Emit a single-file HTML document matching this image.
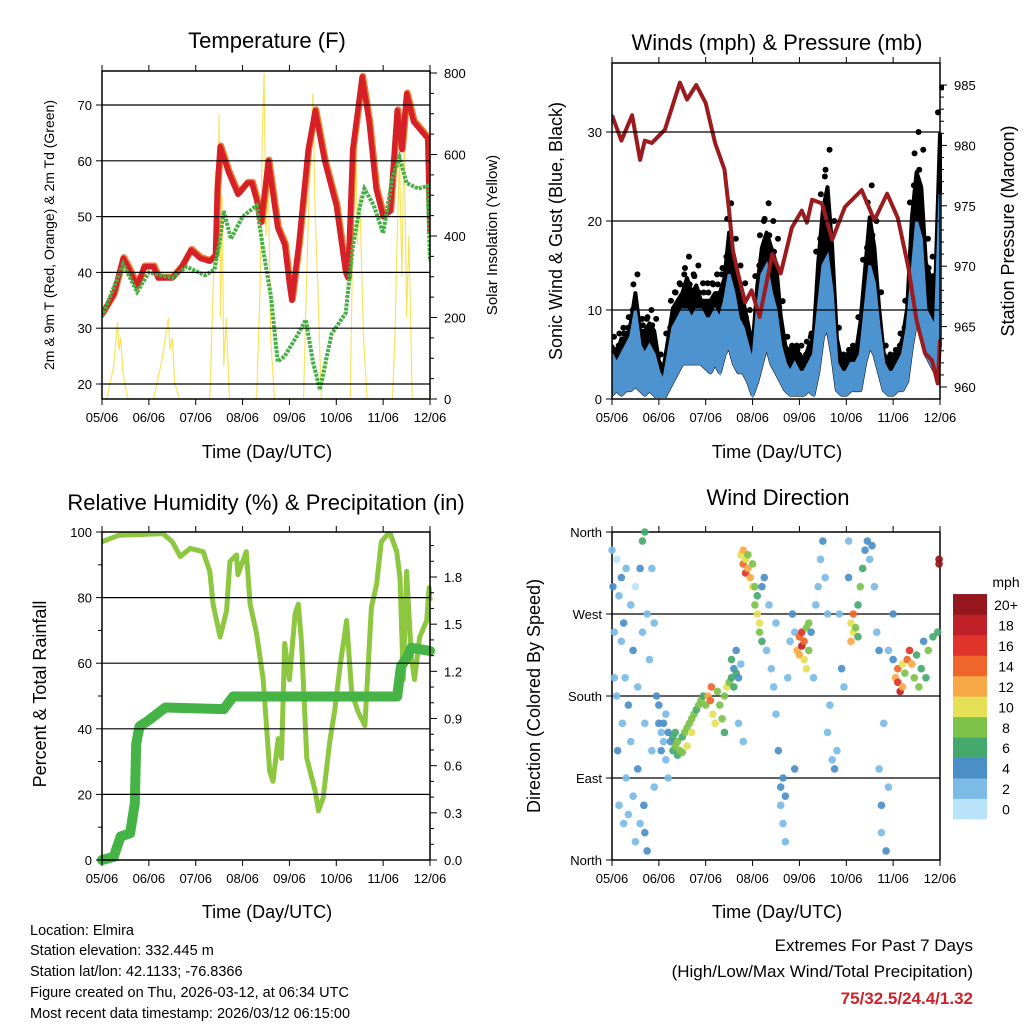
<!DOCTYPE html>
<html><head><meta charset="utf-8"><style>
html,body{margin:0;padding:0;background:#fff;}
svg{display:block;font-family:"Liberation Sans",Arial,sans-serif;}
</style></head><body>
<svg id="c" width="1024" height="1024" viewBox="0 0 1024 1024" xmlns="http://www.w3.org/2000/svg">
<g id="txt" fill="#000">
<text x="267" y="48" font-size="22" text-anchor="middle">Temperature (F)</text>
<text x="777" y="50" font-size="22" text-anchor="middle">Winds (mph) &amp; Pressure (mb)</text>
<text x="266" y="510" font-size="22" text-anchor="middle">Relative Humidity (%) &amp; Precipitation (in)</text>
<text x="778" y="505" font-size="22" text-anchor="middle">Wind Direction</text>
<text x="267" y="458" font-size="18" text-anchor="middle">Time (Day/UTC)</text>
<text x="777" y="458" font-size="18" text-anchor="middle">Time (Day/UTC)</text>
<text x="267" y="918" font-size="18" text-anchor="middle">Time (Day/UTC)</text>
<text x="777" y="918" font-size="18" text-anchor="middle">Time (Day/UTC)</text>
<text transform="translate(54,235) rotate(-90)" font-size="14" text-anchor="middle">2m &amp; 9m T (Red, Orange) &amp; 2m Td (Green)</text>
<text transform="translate(497,235) rotate(-90)" font-size="15" text-anchor="middle">Solar Insolation (Yellow)</text>
<text transform="translate(562,231) rotate(-90)" font-size="18" text-anchor="middle">Sonic Wind &amp; Gust (Blue, Black)</text>
<text transform="translate(1014,231) rotate(-90)" font-size="18" text-anchor="middle">Station Pressure (Maroon)</text>
<text transform="translate(46,694) rotate(-90)" font-size="18" text-anchor="middle">Percent &amp; Total Rainfall</text>
<text transform="translate(540,696) rotate(-90)" font-size="18" text-anchor="middle">Direction (Colored By Speed)</text>
<g font-size="14.5">
<text x="30" y="935">Location: Elmira</text>
<text x="30" y="955">Station elevation: 332.445 m</text>
<text x="30" y="976">Station lat/lon: 42.1133; -76.8366</text>
<text x="30" y="997">Figure created on Thu, 2026-03-12, at 06:34 UTC</text>
<text x="30" y="1018">Most recent data timestamp: 2026/03/12 06:15:00</text>
</g>
<g font-size="17" text-anchor="end">
<text x="973" y="951">Extremes For Past 7 Days</text>
<text x="973" y="977">(High/Low/Max Wind/Total Precipitation)</text>
<text x="973" y="1004" fill="#cc2229" font-weight="bold" font-size="17">75/32.5/24.4/1.32</text>
</g>
<text x="1006" y="587" font-size="14" text-anchor="middle">mph</text>
</g>
</svg>
<script>
// ---- data (time in days since 05/06 00 UTC) ----
const dayLabels = ["05/06","06/06","07/06","08/06","09/06","10/06","11/06","12/06"];
const tempT = [0,0.25,0.45,0.55,0.75,0.9,1.1,1.2,1.5,1.7,1.9,2.1,2.3,2.42,2.46,2.52,2.7,2.9,3.0,3.1,3.2,3.3,3.4,3.55,3.75,3.9,4.0,4.05,4.2,4.4,4.55,4.75,5.0,5.2,5.25,5.35,5.55,5.7,5.85,6.0,6.15,6.3,6.4,6.5,6.65,6.85,6.95,7.0];
const tempV = [32.5,36,42.5,41,37.5,41,41,39,39,41,44,42.5,42,43,55,62.5,58,54,55,56,56,53,49,60,48,45,38,35,45,62,69,60,52,40,39,62,75,67,55,50,51,69,62,72,67,65,64,47];
const dewT = [0,0.45,0.75,1.0,1.5,1.8,2.2,2.4,2.52,2.6,2.75,3.0,3.3,3.45,3.6,3.75,3.9,4.15,4.35,4.5,4.65,4.9,5.2,5.35,5.5,5.6,5.8,6.0,6.2,6.35,6.5,6.75,6.95,7.0];
const dewV = [32,41.5,36.5,40,39,41,39.5,40.5,46,51,46,50,52,43.5,36,24,25,28.5,31.5,24,19,29,32.7,44.5,51.7,55,52,47,57,60.6,56,55,55.5,42];
const solarT = [0,0.1,0.25,0.3,0.33,0.36,0.4,0.45,0.55,1.1,1.25,1.3,1.35,1.42,1.45,1.5,1.55,1.65,2.3,2.38,2.42,2.46,2.5,2.53,2.56,2.6,2.65,2.72,3.3,3.38,3.42,3.46,3.5,3.55,3.6,3.68,4.3,4.38,4.45,4.5,4.55,4.6,4.68,5.3,5.35,5.42,5.45,5.5,5.58,5.66,6.2,6.25,6.3,6.35,6.4,6.45,6.5,6.55,6.62,7.0];
const solarV = [0,0,80,150,190,120,150,60,0,0,80,110,150,200,120,150,40,0,0,300,560,380,700,200,500,80,200,0,0,300,650,800,400,550,150,0,0,350,600,750,450,300,0,0,400,650,380,500,150,0,0,150,400,600,300,650,200,400,0,0];
const windT = [0,.1,.2,.3,.4,.5,.6,.7,.8,.9,1,1.1,1.2,1.3,1.4,1.5,1.6,1.7,1.8,1.9,2,2.1,2.2,2.3,2.4,2.5,2.6,2.7,2.8,2.9,3,3.1,3.2,3.3,3.4,3.5,3.6,3.7,3.8,3.9,4,4.1,4.2,4.3,4.4,4.5,4.6,4.7,4.8,4.9,5,5.1,5.2,5.3,5.4,5.5,5.6,5.7,5.8,5.9,6,6.1,6.2,6.3,6.4,6.5,6.6,6.7,6.8,6.9,7];
const windLo = [0.5,1,0.5,1,1,1.5,1,0.5,1,0.5, 0,0,1,2,3,4,4,4,4,4, 3.5,3,4,3,5,6,4,3,3,2, 0.5,2,4,6,4,3,2,1,0.5,0.5, 0.5,0.5,1,0.5,3,7,8,5,1,0.5, 0.5,1,1,1,4,6,5,3,1,0.5, 0.5,1,1,2,6,9,8,5,4,3,6];
const windHi = [5,4,5,6,7,10,6,5,6,5, 3,2,5,8,9,10,10,9,10,10, 9,9,10,9,11,14,12,9,8,6, 4,10,14,15,12,10,6,4,3,4, 3,3,4,5,10,15,16,12,4,3, 3,4,4,5,10,15,13,8,4,3, 3,4,5,8,14,20,18,10,9,8,23];
const gustV = [7,6,8,8,10,14,9,9,10,9, 5,4,8,12,13,14,16,14,15,13, 13,13,14,14,16,22,18,15,13,10, 7,15,20,22,20,18,11,7,6,6, 6,5,7,8,18,25,28,20,8,5, 5,6,6,10,17,24,20,12,6,5, 5,6,8,12,24,30,28,18,16,15,35];
const presT = [0,0.2,0.43,0.6,0.7,0.85,1.13,1.45,1.6,1.8,2.0,2.2,2.4,2.5,2.58,2.69,2.84,2.98,3.15,3.42,3.6,3.84,4.05,4.16,4.27,4.48,4.7,4.97,5.33,5.6,5.87,6.1,6.32,6.5,6.68,6.83,6.95,7.0];
const presV = [982.5,980.4,982.5,978.8,980.4,980.2,981.3,985.2,983.8,985,983.5,980.2,978,974.6,971.3,969.4,967,968,965.8,971,969.4,973.2,974.6,973.6,975.5,975.2,972.2,974.9,976.3,973.8,976,974,970,965.5,962.8,962.2,960.3,963.9];
const rhT = [0,0.35,1.3,1.5,1.67,1.88,2.16,2.3,2.37,2.52,2.66,2.73,2.87,2.9,3.08,3.16,3.3,3.44,3.58,3.65,3.76,3.83,3.9,4.0,4.12,4.19,4.26,4.37,4.55,4.62,4.72,4.86,4.97,5.08,5.22,5.33,5.47,5.61,5.75,5.86,5.96,6.14,6.29,6.36,6.43,6.5,6.6,6.67,6.78,6.93,6.98,7.0];
const rhV = [97,99,99.5,97,92.5,95,94,88,78,68,76,91,93,87,94,78,69,55,27,24,37,31,66,55,75,78,66,31,21,15,19,36,46,59,73,51,45,41,77,84,97,100,94,86,55,88,62,55,68,73,83,79];
const pcpT = [0,0.25,0.4,0.6,0.7,0.73,0.8,1.0,1.35,2.6,2.8,6.3,6.38,6.51,6.6,7.0];
const pcpV = [0,0.02,0.15,0.17,0.36,0.74,0.85,0.89,0.97,0.96,1.04,1.04,1.23,1.29,1.35,1.33];
const dirT = [0,0.02,0.05,0.05,0.1,0.1,0.12,0.15,0.15,0.2,0.2,0.22,0.25,0.25,0.28,0.3,0.3,0.35,0.35,0.4,0.4,0.45,0.45,0.5,0.5,0.55,0.55,0.6,0.6,0.65,0.65,0.68,0.7,0.7,0.7,0.75,0.75,0.8,0.85,0.85,0.9,0.9,0.95,
1.0,1.0,1.05,1.05,1.1,1.1,1.15,1.15,1.2,1.2,1.25,1.3,1.3,1.35,1.35,1.4,1.4,1.45,1.5,1.5,1.55,1.6,1.6,1.65,1.7,1.7,1.75,1.8,1.85,1.9,1.95,2.0,2.05,2.1,2.12,2.15,2.2,2.25,2.3,2.35,2.4,2.4,2.45,2.5,2.55,2.55,2.6,2.6,2.65,2.65,2.7,2.7,2.75,2.8,
2.75,2.8,2.8,2.85,2.85,2.9,2.9,2.95,3.0,3.0,3.05,3.05,3.1,3.1,3.15,3.15,3.2,3.2,3.25,3.3,3.35,3.4,3.45,3.5,3.5,3.55,3.6,3.6,3.65,3.65,3.7,3.7,3.75,3.8,3.85,3.9,3.9,
3.95,4.0,4.0,4.05,4.05,4.1,4.1,4.15,4.15,4.2,4.2,4.25,4.3,4.35,4.4,4.45,4.5,4.55,4.6,4.6,4.65,4.7,4.75,4.8,4.85,4.9,4.95,
5.05,5.05,5.1,5.1,5.15,5.15,5.2,5.25,5.25,5.3,5.35,5.4,5.45,5.5,5.55,5.6,5.65,5.7,5.7,5.75,5.75,5.8,5.85,5.9,5.9,
6.0,6.0,6.05,6.1,6.1,6.15,6.2,6.2,6.25,6.3,6.35,6.4,6.45,6.5,6.55,6.6,6.65,6.7,6.75,6.85,6.95,6.98,6.98];
const dirD = [340,300,250,200,330,180,120,290,60,310,240,150,260,40,200,90,320,170,50,280,130,230,70,300,20,190,100,320,40,350,250,60,360,150,30,10,270,220,120,320,260,80,180,
170,150,140,120,150,130,160,110,90,140,130,135,120,140,125,130,115,120,135,118,140,145,125,150,155,140,160,165,170,175,180,170,180,175,190,160,150,185,170,155,140,180,190,195,200,220,190,210,205,230,200,150,215,130,
335,340,325,330,315,320,335,310,325,300,300,280,270,290,260,250,240,300,310,230,280,210,190,260,160,120,80,60,90,40,70,20,200,240,270,250,100,
230,245,225,250,235,240,220,255,210,230,260,250,200,280,300,330,350,310,270,140,170,110,100,120,270,210,190,
350,310,260,240,270,250,255,245,280,300,320,340,350,330,345,300,250,230,100,60,30,150,10,80,230,
220,270,200,195,210,185,190,215,205,220,230,215,200,225,190,210,240,200,230,245,250,330,325];
const dirS = [3,4,3,2,1,3,4,3,2,4,3,2,4,3,3,2,2,4,3,3,2,4,3,1,2,3,4,4,3,6,3,5,7,3,4,4,2,3,2,2,3,2,4,
4,4,3,4,4,3,2,3,2,4,5,6,7,7,8,9,6,8,7,9,8,9,10,8,9,10,8,7,9,8,7,9,12,14,15,11,10,9,8,8,7,9,10,8,7,6,6,5,6,5,4,2,3,2,
10,12,14,11,16,13,9,12,8,10,8,9,11,7,10,8,6,4,4,3,3,2,3,3,2,4,4,3,4,3,4,2,3,2,4,3,4,
12,14,12,16,18,15,11,9,10,8,9,4,3,3,2,3,4,3,2,2,3,3,4,3,3,4,3,
3,4,10,12,14,11,8,6,7,9,6,4,4,3,4,3,3,4,2,4,3,3,4,3,3,
5,4,12,16,14,18,12,10,9,14,17,12,8,6,8,6,5,7,8,7,6,20,20];
const speedLabels = ["0","2","4","6","8","10","12","14","16","18","20+"];
const speedColors = ["#b9e3f8","#7bbbe6","#4a8fc8","#47a86e","#7dc24b","#e6e057","#f8a947","#f0652c","#e0342b","#bf1f27","#93171c"];

const NS = "http://www.w3.org/2000/svg";
const svg = document.getElementById("c");
function mk(tag, attrs, parent){ const e=document.createElementNS(NS,tag); for(const k in attrs) e.setAttribute(k,attrs[k]); (parent||svg).appendChild(e); return e; }
function lin(d0,d1,r0,r1){ return v => r0 + (v-d0)/(d1-d0)*(r1-r0); }

const P1={x0:102,x1:430,y0:71,y1:399}, P2={x0:612,x1:940,y0:63,y1:399}, P3={x0:102,x1:430,y0:532,y1:860}, P4={x0:612,x1:940,y0:532,y1:860};

function frame(p, name, leftTicks, leftFmt, leftScale, rightTicks, rightFmt, rightScale, rightMinor, grid){
  const g = mk("g",{});
  
  
  const xs = lin(0,7,p.x0,p.x1);
  if(grid){ leftTicks.forEach(v=>{ const y=leftScale(v); if(y>p.y0+1 && y<p.y1-1){ const l=mk("line",{x1:p.x0,x2:p.x1,y1:y,y2:y,stroke:"#000","stroke-width":1.2},g);
    
     } }); }
  mk("rect",{x:p.x0,y:p.y0,width:p.x1-p.x0,height:p.y1-p.y0,fill:"none",stroke:"#000","stroke-width":1.5},g);
  for(let i=0;i<=7;i++){ const x=xs(i);
    mk("line",{x1:x,x2:x,y1:p.y1,y2:p.y1+6,stroke:"#000"},g);
    mk("line",{x1:x,x2:x,y1:p.y0,y2:p.y0-6,stroke:"#000"},g);
    const t=mk("text",{x:x,y:p.y1+23,"font-size":13,"text-anchor":"middle"},g); t.textContent=dayLabels[i];
    
    
  }
  leftTicks.forEach(v=>{ const y=leftScale(v); mk("line",{x1:p.x0-6,x2:p.x0,y1:y,y2:y,stroke:"#000"},g);
    const t=mk("text",{x:p.x0-10,y:y+5,"font-size":13,"text-anchor":"end"},g); t.textContent=leftFmt(v);
    
     });
  if(rightTicks){ rightTicks.forEach(v=>{ const y=rightScale(v); mk("line",{x1:p.x1,x2:p.x1+7,y1:y,y2:y,stroke:"#000"},g);
    const t=mk("text",{x:p.x1+14,y:y+5,"font-size":13},g); t.textContent=rightFmt(v);
    
     });
    rightMinor.forEach(v=>{ const y=rightScale(v); if(y>=p.y0&&y<=p.y1) mk("line",{x1:p.x1,x2:p.x1+4,y1:y,y2:y,stroke:"#000"},g); });
  }
  return xs;
}
function path(xs, ys, T, V){ return T.map((t,i)=>(i?"L":"M")+xs(t).toFixed(1)+","+ys(V[i]).toFixed(1)).join(""); }

// ---- Panel 1: temperature ----
const tY = lin(20,70,384,105), sY = lin(0,800,399,73);
const xs1 = lin(0,7,P1.x0,P1.x1);
const c1 = mk("clipPath",{id:"cp1"}); mk("rect",{x:P1.x0,y:P1.y0,width:328,height:328},c1);
const g1 = mk("g",{"clip-path":"url(#cp1)"});


const sol = mk("path",{d:path(xs1,sY,solarT,solarV),fill:"none",stroke:"#f9e04a","stroke-width":1.2,opacity:0.9},g1);


const tOr = mk("path",{d:path(xs1,tY,tempT,tempV),fill:"none",stroke:"#f07a2a","stroke-width":6.5,"stroke-linejoin":"round",transform:"translate(0.8,-1)"},g1);


const tRd = mk("path",{d:path(xs1,tY,tempT,tempV),fill:"none",stroke:"#d42026","stroke-width":5.5,"stroke-linejoin":"round"},g1);


const dw = mk("path",{d:path(xs1,tY,dewT,dewV),fill:"none",stroke:"#43b043","stroke-width":4,"stroke-dasharray":"3 1.2"},g1);


frame(P1,"temperature",[20,30,40,50,60,70],v=>v,tY,[0,200,400,600,800],v=>v,sY,[50,100,150,250,300,350,450,500,550,650,700,750],true);

// ---- Panel 2: winds & pressure ----
const wY = lin(0,10,399,310), pY = lin(960,985,387,85);
const xs2 = lin(0,7,P2.x0,P2.x1);
const c2 = mk("clipPath",{id:"cp2"}); mk("rect",{x:P2.x0,y:P2.y0-5,width:332,height:340},c2);
const g2 = mk("g",{"clip-path":"url(#cp2)"});


let gp = windT.map((t,i)=>(i?"L":"M")+xs2(t).toFixed(1)+","+wY(gustV[i]*0.85).toFixed(1)).join("");
for(let i=windT.length-1;i>=0;i--) gp += "L"+xs2(windT[i]).toFixed(1)+","+wY(windLo[i]).toFixed(1);
const gband = mk("path",{d:gp+"Z",fill:"#000",stroke:"#000","stroke-width":4,"stroke-linejoin":"round"},g2);


windT.forEach((t,i)=>{ [1,0.92].forEach((f,k)=>{ const d=mk("circle",{cx:xs2(t)+(k?-2:2),cy:wY(gustV[i]*f),r:3,fill:"#000"},g2);
  
   }); });
let bp = windT.map((t,i)=>(i?"L":"M")+xs2(t).toFixed(1)+","+wY(windHi[i]).toFixed(1)).join("");
for(let i=windT.length-1;i>=0;i--) bp += "L"+xs2(windT[i]).toFixed(1)+","+wY(windLo[i]).toFixed(1);
const wband = mk("path",{d:bp+"Z",fill:"#4d93cf",stroke:"#4d93cf","stroke-width":3},g2);


const pl = mk("path",{d:path(xs2,pY,presT,presV),fill:"none",stroke:"#9b1b1e","stroke-width":4,"stroke-linejoin":"round"},g2);


const pm=[]; for(let v=960;v<=985;v++) if(v%5) pm.push(v);
frame(P2,"winds",[0,10,20,30],v=>v,wY,[960,965,970,975,980,985],v=>v,pY,pm,true);

// ---- Panel 3: humidity & precipitation ----
const hY = lin(0,100,860,532), rY = lin(0,1.8,860,577);
const xs3 = lin(0,7,P3.x0,P3.x1);
const c3 = mk("clipPath",{id:"cp3"}); mk("rect",{x:P3.x0-6,y:P3.y0,width:340,height:334},c3);
const g3 = mk("g",{"clip-path":"url(#cp3)"});


const rh = mk("path",{d:path(xs3,hY,rhT,rhV),fill:"none",stroke:"#8dc63f","stroke-width":5,"stroke-linejoin":"round"},g3);


const pc = mk("path",{d:path(xs3,rY,pcpT,pcpV),fill:"none",stroke:"#46b347","stroke-width":10,"stroke-linejoin":"round","stroke-linecap":"round"},g3);


frame(P3,"humidity",[0,20,40,60,80,100],v=>v,hY,[0,0.3,0.6,0.9,1.2,1.5,1.8],v=>v.toFixed(1),rY,[0.1,0.2,0.4,0.5,0.7,0.8,1.0,1.1,1.3,1.4,1.6,1.7,1.9,2.0],true);
[10,30,50,70,90].forEach(v=>mk("line",{x1:P3.x0-4,x2:P3.x0,y1:hY(v),y2:hY(v),stroke:"#000"}));

// ---- Panel 4: wind direction ----
const dY = lin(0,360,860,532);
const xs4 = lin(0,7,P4.x0,P4.x1);
frame(P4,"direction",[0,90,180,270,360],v=>["North","East","South","West","North"][v/90],dY,null,null,null,[],true);
const g4 = mk("g",{});


dirT.forEach((t,i)=>{ const b=Math.min(10,Math.floor(dirS[i]/2));
  const c=mk("circle",{cx:xs4(t),cy:dY(dirD[i]),r:3.8,fill:speedColors[b],opacity:0.92},g4);
  
   });
const cb = mk("g",{});


speedLabels.forEach((lab,i)=>{ const y=819-(i+1)*20.45;
  const r=mk("rect",{x:953,y:y,width:34,height:20.8,fill:speedColors[i]},cb);
  
  
  const t=mk("text",{x:1006,y:y+16,"font-size":14,"text-anchor":"middle"},cb); t.textContent=lab;
  
   });
</script>
</body></html>
